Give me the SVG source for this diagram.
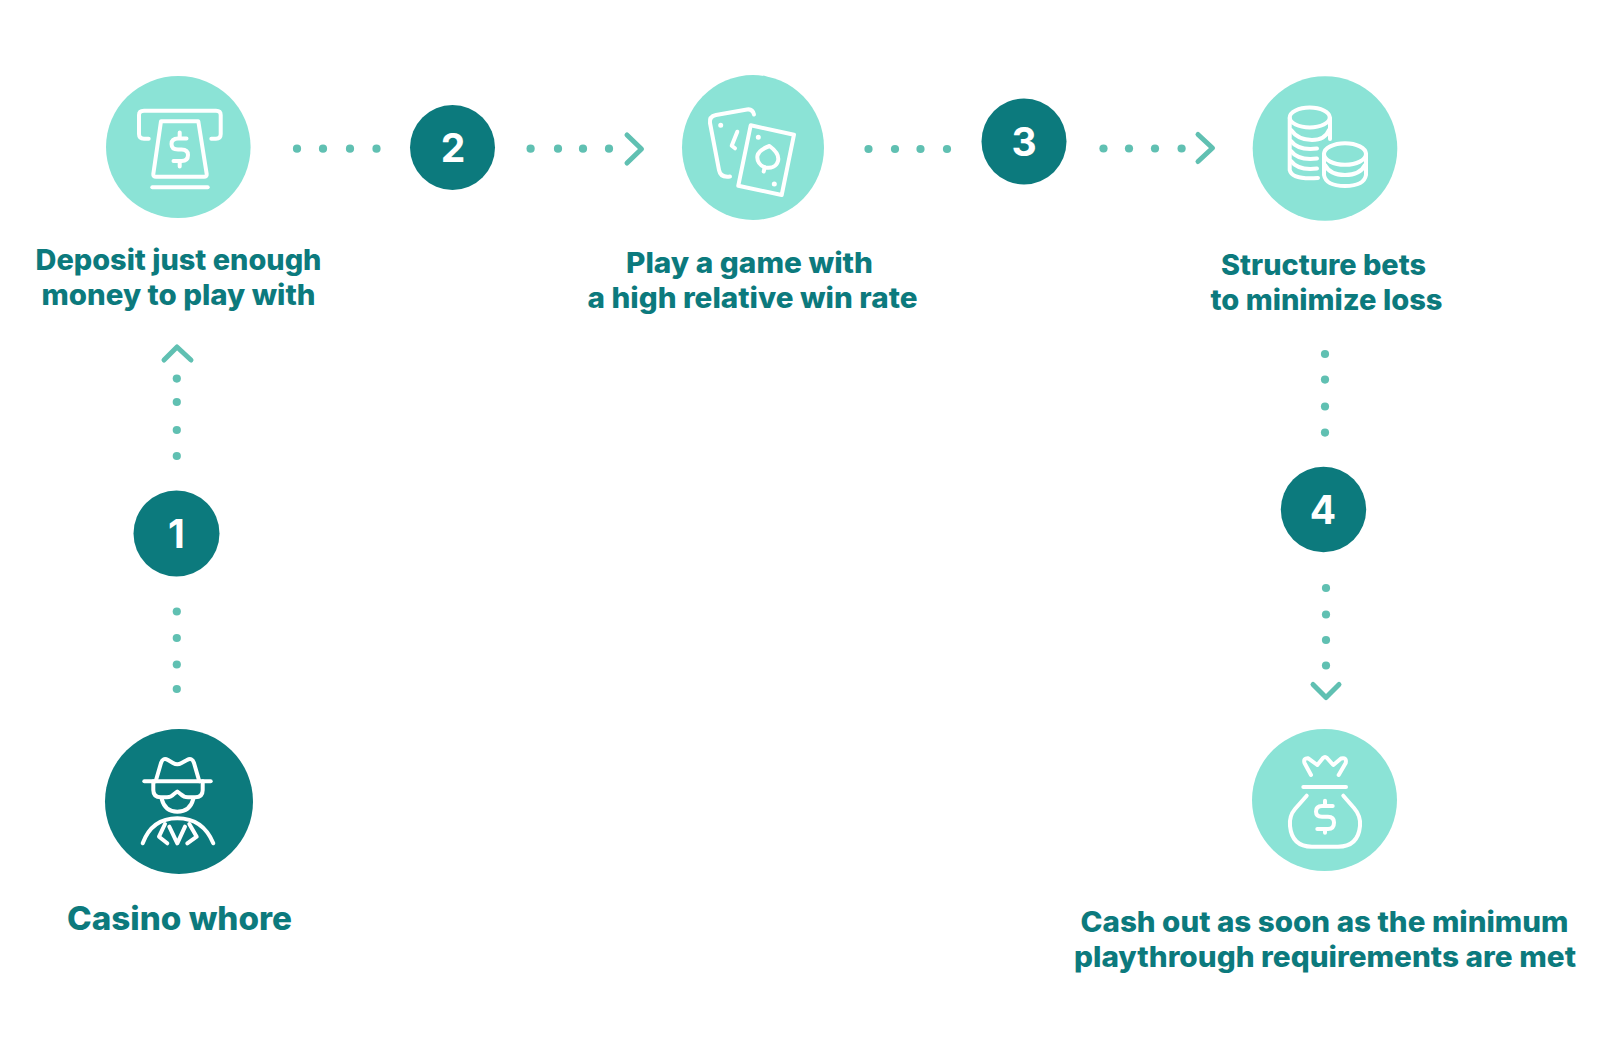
<svg xmlns="http://www.w3.org/2000/svg" width="1600" height="1039" viewBox="0 0 1600 1039">
<style>
.light{fill:#8be3d6}
.dark{fill:#0c7a7d}
.ic{fill:none;stroke:#fff;stroke-width:4;stroke-linecap:round;stroke-linejoin:round}
.dot{fill:#60c0b2}
.chev{fill:none;stroke:#60c0b2;stroke-width:5;stroke-linecap:round;stroke-linejoin:round}
.lb{font-family:Inter,"Noto Sans","Liberation Sans",sans-serif;font-weight:800;font-size:28px;fill:#0c7a7d}
.num{font-family:Inter,"Noto Sans","Liberation Sans",sans-serif;font-weight:700;font-size:39px;fill:#fff;text-anchor:middle}
</style>
<rect width="1600" height="1039" fill="#fff"/>
<g id="connectors">
<g class="dot">
<circle cx="297" cy="148.7" r="4.1"/><circle cx="323" cy="148.7" r="4.1"/><circle cx="350" cy="148.7" r="4.1"/><circle cx="376.5" cy="148.7" r="4.1"/>
<circle cx="530.6" cy="148.7" r="4.1"/><circle cx="558" cy="148.7" r="4.1"/><circle cx="583" cy="148.7" r="4.1"/><circle cx="609" cy="148.7" r="4.1"/>
<circle cx="868.5" cy="149" r="4.1"/><circle cx="895" cy="149" r="4.1"/><circle cx="920.5" cy="149" r="4.1"/><circle cx="947" cy="149" r="4.1"/>
<circle cx="1103.5" cy="148.5" r="4.1"/><circle cx="1129" cy="148.5" r="4.1"/><circle cx="1155" cy="148.5" r="4.1"/><circle cx="1181.6" cy="148.5" r="4.1"/>
<circle cx="176.8" cy="378.6" r="4.1"/><circle cx="176.8" cy="402" r="4.1"/><circle cx="176.8" cy="430" r="4.1"/><circle cx="176.8" cy="456" r="4.1"/>
<circle cx="176.8" cy="611.5" r="4.1"/><circle cx="176.8" cy="638" r="4.1"/><circle cx="176.8" cy="664.5" r="4.1"/><circle cx="176.8" cy="689" r="4.1"/>
<circle cx="1325" cy="354" r="4.1"/><circle cx="1325" cy="379.6" r="4.1"/><circle cx="1325" cy="406.5" r="4.1"/><circle cx="1325" cy="432.6" r="4.1"/>
<circle cx="1326" cy="588" r="4.1"/><circle cx="1326" cy="614.5" r="4.1"/><circle cx="1326" cy="640" r="4.1"/><circle cx="1326" cy="665.5" r="4.1"/>
</g>
<path class="chev" d="M627 135L641.5 149L627 163"/>
<path class="chev" d="M1198 134.5L1212.5 148L1198 161.5"/>
<path class="chev" d="M164 360L177 347L191 360"/>
<path class="chev" d="M1313 684.5L1326 697.5L1339 684.5"/>
</g>
<g id="node-casino-whore">
<ellipse class="dark" cx="179" cy="801.5" rx="74" ry="72.5"/>
<g class="ic">
<path d="M144.3 781.3H210.7"/>
<path d="M155.7 781.3L161 763Q163 757 168 760L173 763Q177.3 765.5 181.5 763L187 760Q192 757 194 763L199.3 781.3"/>
<path d="M153.3 781.3V790Q153.3 797.3 161 797.3H167Q171 797.3 174 794L177.3 791.5L180.5 794Q184 797.3 188 797.3H195Q202.7 797.3 202.7 790V781.3"/>
<path d="M161.7 799Q165 811.7 177.3 811.7Q190 811.7 193.3 799"/>
<path d="M142.7 843.3Q152 818.3 177.3 818.3Q203 818.3 213.3 843.3"/>
<path d="M165 824L159 836.7L167.3 843.3"/>
<path d="M189.3 824L196.7 836.7L187.3 843.3"/>
<path d="M169.3 826.7L177.3 843.3L185 826.7"/>
</g>
<text class="lb" x="67" y="929.5" style="font-size:32.5px" textLength="225" lengthAdjust="spacingAndGlyphs">Casino whore</text>
</g>
<g id="badge-1"><circle class="dark" cx="176.5" cy="533.5" r="43"/><text class="num" x="176.5" y="547.5">1</text></g>
<g id="node-deposit">
<ellipse class="light" cx="178.3" cy="147" rx="72.3" ry="71"/>
<g class="ic">
<path d="M148.7 138.7H144Q139 138.7 139 134V115Q139 110.7 144 110.7H216Q220.7 110.7 220.7 115V134Q220.7 138.7 216 138.7H211.3"/>
<path d="M161 121.3H198.3L206.7 174Q207 176.7 204 176.7H156Q153 176.7 153.3 174Z"/>
<path d="M152.3 187.3H207.7"/>
<path d="M186.5 138.5H178Q171.5 138.5 171.5 144Q171.5 149.5 178 149.5H181.5Q188 149.5 188 155Q188 161 181.5 161H173.5"/>
<path d="M179.7 132.5V138M179.7 161V166.5"/>
</g>
<text class="lb" x="35.5" y="269.5" textLength="286" lengthAdjust="spacingAndGlyphs">Deposit just enough</text>
<text class="lb" x="41.5" y="304.5" textLength="274" lengthAdjust="spacingAndGlyphs">money to play with</text>
</g>
<g id="badge-2"><circle class="dark" cx="452.5" cy="147.5" r="42.5"/><text class="num" x="453" y="162">2</text></g>
<g id="node-play">
<ellipse class="light" cx="753" cy="147.5" rx="71" ry="72.5"/>
<g class="ic">
<path d="M750.7 125.3L794 134.7L781.7 195L738.3 185.7Z"/>
<path d="M769.5 146C775 150 779.5 155 778 161C776.5 166.5 771 168.5 765.5 167.5C760 166 756.5 161 757.5 155.5C758.5 151 764 148 769.5 146Z"/>
<path d="M764.7 167.5L763.7 171.5"/>
<path d="M758.3 137.3h.01M774.3 184h.01M720.7 125.3h.01" stroke-width="5"/>
<path d="M754 114.5Q752.5 108.5 747 109.5L716 115Q709 116.5 710 123L719 170Q720.5 178 730 176.5"/>
<path d="M737.3 131.7L731.7 145.7L735 148.3"/>
</g>
<text class="lb" x="626" y="272.5" textLength="247" lengthAdjust="spacingAndGlyphs">Play a game with</text>
<text class="lb" x="587.5" y="307.5" textLength="330" lengthAdjust="spacingAndGlyphs">a high relative win rate</text>
</g>
<g id="badge-3"><ellipse class="dark" cx="1024" cy="141.5" rx="42.5" ry="43"/><text class="num" x="1024" y="155.5">3</text></g>
<g id="node-structure">
<circle class="light" cx="1325" cy="148.5" r="72.3"/>
<g class="ic">
<ellipse cx="1309.7" cy="117.5" rx="20" ry="10"/>
<path d="M1330 118V139M1289.7 118V170Q1292 180 1318 178"/>
<path d="M1291 130Q1298 140 1312 140Q1325 140 1329 130"/>
<path d="M1291 141Q1298 150.7 1317 148.5"/>
<path d="M1291 151Q1298 160.7 1317 158.5"/>
<path d="M1291 161Q1298 170.7 1317 168.5"/>
<ellipse cx="1345" cy="154" rx="21" ry="10.8"/>
<path d="M1324 154V175Q1326 186 1345 186Q1364 186 1366 175V154"/>
<path d="M1325 165Q1330 175 1345 175Q1360 175 1365 165"/>
</g>
<text class="lb" x="1221" y="274.5" textLength="205" lengthAdjust="spacingAndGlyphs">Structure bets</text>
<text class="lb" x="1210.5" y="309.5" textLength="232" lengthAdjust="spacingAndGlyphs">to minimize loss</text>
</g>
<g id="badge-4"><circle class="dark" cx="1323.5" cy="509.5" r="42.7"/><text class="num" x="1323" y="523.5">4</text></g>
<g id="node-cashout">
<ellipse class="light" cx="1324.5" cy="800" rx="72.5" ry="71"/>
<g class="ic">
<path d="M1311 775L1304.5 763Q1303 758 1308.3 758.3L1317.3 765L1323 758Q1325 756 1327 758L1333.3 765L1341 758.5Q1347 757 1345.7 763L1338.7 775"/>
<path d="M1303.3 787H1346"/>
<path d="M1306.7 795.7L1295 809Q1289 816 1290 826Q1292 846.7 1312 846.7H1338Q1358 846.7 1360 826Q1361 816 1354 808L1343.3 795.7"/>
<path d="M1332.7 806H1322Q1316 806 1316 811.5Q1316 816.7 1322 816.7H1328Q1334 816.7 1334 822.5Q1334 829 1328 829H1317.3"/>
<path d="M1325 800.7V806M1325 829V832.7"/>
</g>
<text class="lb" x="1080.5" y="931.5" textLength="488" lengthAdjust="spacingAndGlyphs">Cash out as soon as the minimum</text>
<text class="lb" x="1074" y="966.5" textLength="502" lengthAdjust="spacingAndGlyphs">playthrough requirements are met</text>
</g>
</svg>
